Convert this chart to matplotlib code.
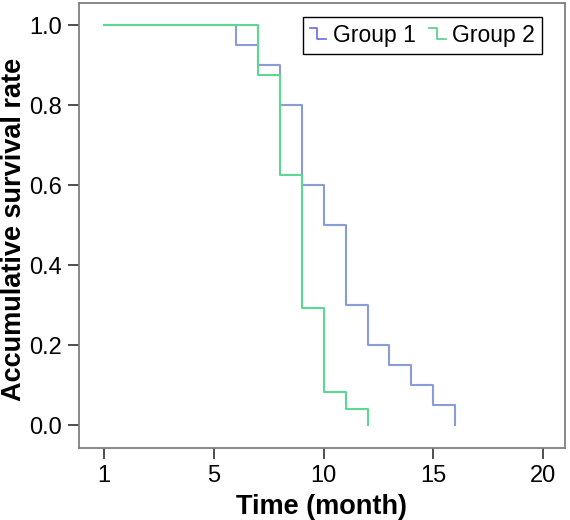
import matplotlib
matplotlib.use('Agg')
import matplotlib.pyplot as plt
from matplotlib.legend_handler import HandlerBase
from matplotlib.lines import Line2D

matplotlib.rcParams['font.family'] = ['Liberation Sans', 'DejaVu Sans']

# Kaplan-Meier style step data (time in months, survival rate after each drop)
group1_time = [0, 6, 7, 8, 9, 10, 11, 12, 13, 14, 15, 16]
group1_surv = [1.0, 0.95, 0.90, 0.80, 0.60, 0.50, 0.30, 0.20, 0.15, 0.10, 0.05, 0.0]
group2_time = [0, 7, 8, 9, 10, 11, 12]
group2_surv = [1.0, 0.875, 0.625, 0.2917, 0.0833, 0.0417, 0.0]

x_ticks = [0, 5, 10, 15, 20]
x_tick_labels = ['1', '5', '10', '15', '20']
y_ticks = [0.0, 0.2, 0.4, 0.6, 0.8, 1.0]

blue = '#8a9cd8'
green = '#5cd891'
blue_key = '#6b6bdc'
green_key = '#55cc88'
frame_gray = '#7f7f7f'


class StepHandler(HandlerBase):
    """Draw a small step glyph as the legend key."""
    def create_artists(self, legend, orig_handle, xdescent, ydescent,
                       width, height, fontsize, trans):
        x0 = -xdescent
        y0 = -ydescent
        xs = [x0, x0 + width * 0.45, x0 + width * 0.45, x0 + width]
        ys = [y0 + height * 0.85, y0 + height * 0.85, y0 + height * 0.15, y0 + height * 0.15]
        line = Line2D(xs, ys, color=orig_handle.get_color(), linewidth=1.2)
        line.set_transform(trans)
        return [line]


fig = plt.figure(figsize=(5.7, 5.2), dpi=100)
fig.patch.set_facecolor('white')
ax = fig.add_axes([79 / 570, 72 / 520, (565 - 79) / 570, (448 - 3) / 520])

ax.step(group1_time, group1_surv, where='post', color=blue, linewidth=1.5)
ax.step(group2_time, group2_surv, where='post', color=green, linewidth=1.5)

ax.set_xlim(-1.15, 21.0)
ax.set_ylim(-0.057, 1.055)
ax.set_xticks(x_ticks)
ax.set_xticklabels(x_tick_labels)
ax.set_yticks(y_ticks)
ax.set_yticklabels([f'{v:.1f}' for v in y_ticks])

for s in ax.spines.values():
    s.set_color(frame_gray)
    s.set_linewidth(1.3)
ax.tick_params(direction='out', length=8, width=1.3, color='#404040',
               labelsize=17, pad=4)

ax.set_xlabel('Time (month)', fontsize=19.5, fontweight='bold', labelpad=5)
fig.text(14 / 570, 1 - 229 / 520, 'Accumulative survival rate', rotation=90,
         ha='center', va='center', fontsize=19.5, fontweight='bold')

key1 = Line2D([], [], color=blue_key)
key2 = Line2D([], [], color=green_key)
leg = ax.legend([key1, key2], ['Group 1', 'Group 2'],
                handler_map={Line2D: StepHandler()},
                loc='upper right', bbox_to_anchor=(542 / 570, (520 - 17) / 520),
                bbox_transform=fig.transFigure, borderaxespad=0,
                ncol=2, fontsize=16.5, frameon=True, fancybox=False,
                edgecolor='black', framealpha=1, handlelength=0.7,
                handletextpad=0.3, columnspacing=0.6, borderpad=0.3)
leg.get_frame().set_linewidth(1.0)

fig.savefig('out.png', dpi=100)
